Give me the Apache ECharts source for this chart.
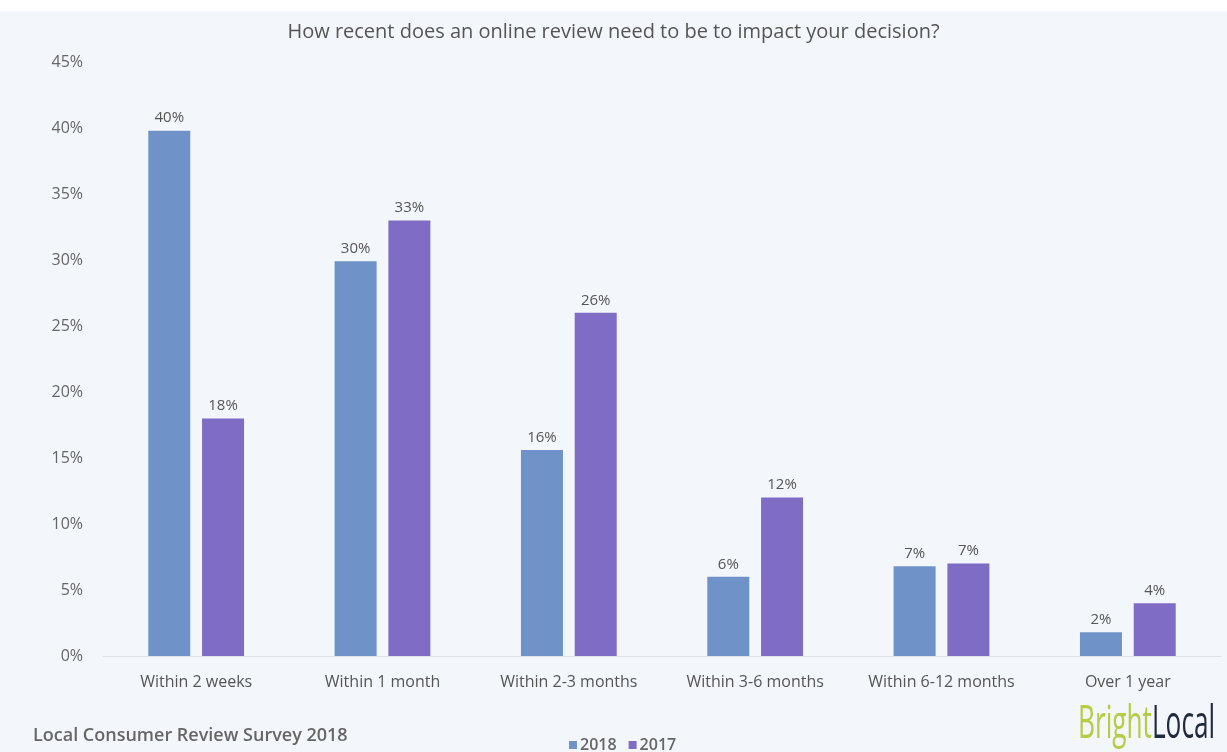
<!DOCTYPE html>
<html><head><meta charset="utf-8">
<script src="https://cdn.jsdelivr.net/npm/echarts@6/dist/echarts.min.js"></script>
<style>html,body{margin:0;padding:0;background:#f3f6fa;}#c{width:1227px;height:752px;}</style>
</head><body><div id="c"></div>
<script>
const categories = ['Within 2 weeks','Within 1 month','Within 2-3 months','Within 3-6 months','Within 6-12 months','Over 1 year'];
const values2018 = [39.8, 29.9, 15.6, 6.0, 6.8, 1.8];
const values2017 = [18, 33, 26, 12, 7, 4];
const yTicks = [0,5,10,15,20,25,30,35,40,45];
const titleText = 'How recent does an online review need to be to impact your decision?';
const sourceText = 'Local Consumer Review Survey 2018';

const chart = echarts.init(document.getElementById('c'));
const font = '"Open Sans", "Noto Sans", sans-serif';
const lbl = {show:true, position:'top', distance:5, color:'#555', fontSize:15, fontFamily:font,
  formatter: p => Math.round(p.value) + '%'};
chart.setOption({
  backgroundColor:'#f3f6fa',
  animation:false,
  title:{text:titleText, left:'center', top:17, textStyle:{color:'#555', fontSize:20, fontWeight:'normal', fontFamily:font}},
  legend:{data:['2018','2017'], left:564, top:732, itemWidth:8, itemHeight:8, itemGap:12, icon:'rect',
    textStyle:{color:'#666', fontSize:16, fontWeight:600, fontFamily:font, padding:[0,0,0,-2]}},
  grid:{left:103, right:6, top:62, bottom:96},
  xAxis:{type:'category', data:categories,
    axisLine:{lineStyle:{color:'#dde2e8'}}, axisTick:{show:false},
    axisLabel:{color:'#555', fontSize:16, fontFamily:font, margin:18, interval:0, hideOverlap:false}},
  yAxis:{type:'value', min:yTicks[0], max:yTicks[yTicks.length-1], interval:5,
    splitLine:{show:false}, axisLine:{show:false}, axisTick:{show:false},
    axisLabel:{color:'#666', fontSize:16, fontFamily:font, margin:20, formatter:v=>v+'%'}},
  series:[
    {name:'2018', type:'bar', data:values2018, barWidth:42, barGap:'28%', itemStyle:{color:'#6f93c8'}, label:lbl},
    {name:'2017', type:'bar', data:values2017, barWidth:42, itemStyle:{color:'#7f6cc4'}, label:lbl}
  ],
  graphic:[
    {type:'rect', left:0, top:0, shape:{width:1227, height:11}, style:{fill:'#ffffff'}, z:-1},
    {type:'text', x:33, y:736, style:{text:sourceText, fill:'#666', font:'600 18px "Open Sans", sans-serif', verticalAlign:'middle'}},
    {type:'text', x:1078, y:725, scaleX:0.57, style:{text:'{a|Bright}{b|Local}', verticalAlign:'middle', align:'left',
      rich:{a:{fill:'#b6cc45', fontSize:46, fontFamily:'"Open Sans", sans-serif'},
            b:{fill:'#1f2a3f', fontSize:46, fontFamily:'"Open Sans", sans-serif'}}}}
  ]
});
</script></body></html>
